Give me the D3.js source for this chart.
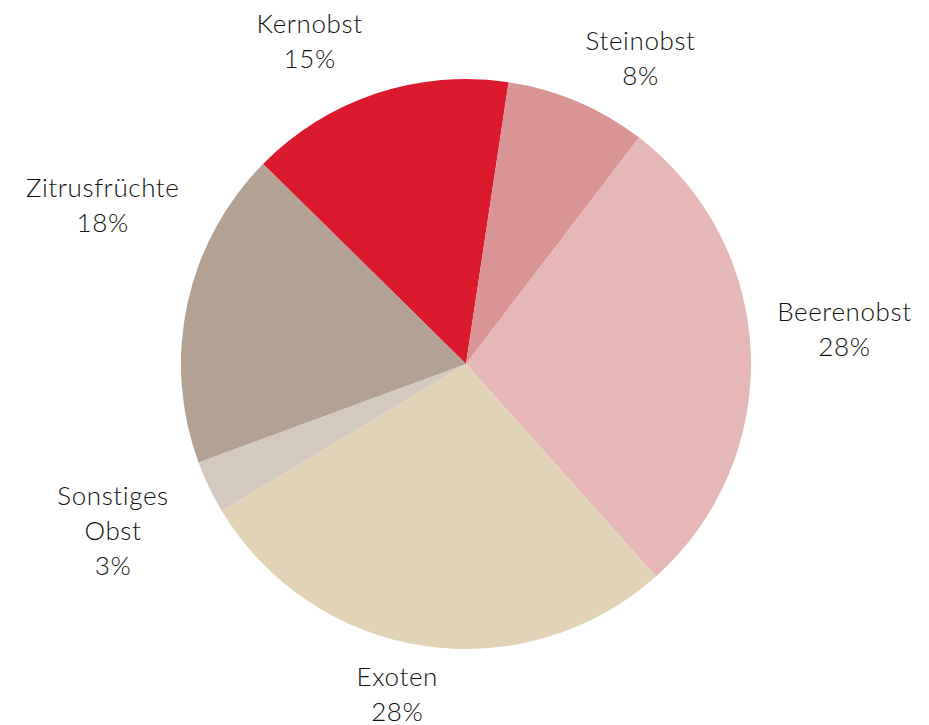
<!DOCTYPE html>
<html>
<head>
<meta charset="utf-8">
<script src="https://cdn.jsdelivr.net/npm/d3@7"></script>
<style>
  html, body { margin: 0; padding: 0; background: #fff; }
  svg text { font-family: Lato, "Open Sans", sans-serif; font-weight: 300; fill: #111; letter-spacing: 0.6px; }
</style>
</head>
<body>
<svg id="chart" width="929" height="725"></svg>
<script>
// data
const categories = ['Kernobst', 'Steinobst', 'Beerenobst', 'Exoten', 'Sonstiges Obst', 'Zitrusfrüchte'];
const shares = [15, 8, 28, 28, 3, 18];
const colors = ['#dc1a2e', '#d99594', '#e6b7b7', '#e2d3b7', '#d4c9be', '#b3a293'];

// layout
const width = 929;
const height = 725;
const center = { x: 466, y: 364 };
const radius = 285;
const labelRadius = 305;
const fontSize = 26;
const lineHeight = 35;
// angle shifts (deg) and radial pushes (px) so labels sit like the original's best-fit placement
const labelShift = [-7.4, 6.7, -3.1, 3.2, 0.4, 11.5];
const labelPush = [1, -9, 5, -10, 13, 8];

const rad = deg => deg * Math.PI / 180;
const startDeg = -45.4;

const svg = d3.select('#chart');

const pie = d3.pie()
  .sort(null)
  .value(d => d.value)
  .startAngle(rad(startDeg))
  .endAngle(rad(startDeg + 360));

const data = categories.map((c, i) => ({
  name: c, value: shares[i], color: colors[i], shift: labelShift[i], push: labelPush[i],
}));
const arcs = pie(data);

const arc = d3.arc().innerRadius(0).outerRadius(radius);

const g = svg.append('g')
  .attr('transform', `translate(${center.x},${center.y})`);

g.selectAll('path.slice')
  .data(arcs)
  .enter()
  .append('path')
  .classed('slice', true)
  .attr('d', arc)
  .attr('fill', d => d.data.color);

const total = d3.sum(shares);

const labels = svg.selectAll('g.label')
  .data(arcs)
  .enter()
  .append('g')
  .classed('label', true);

labels.each(function (d) {
  const lines = d.data.name.split(' ').concat([`${Math.round(d.data.value / total * 100)}%`]);
  const t = d3.select(this).append('text')
    .attr('text-anchor', 'middle')
    .style('font-size', fontSize + 'px');
  lines.forEach((l, i) => {
    t.append('tspan')
      .attr('x', 0)
      .attr('y', i * lineHeight)
      .text(l);
  });
  const box = this.getBBox();
  const a = (d.startAngle + d.endAngle) / 2 + rad(d.data.shift);
  const sx = Math.sin(a);
  const sy = -Math.cos(a);
  const ext = Math.abs(box.width / 2 * sx) + Math.abs(box.height / 2 * sy);
  const r = labelRadius + ext + d.data.push;
  const cx = center.x + r * sx;
  const cy = center.y + r * sy;
  const bx = box.x + box.width / 2;
  const by = box.y + box.height / 2;
  d3.select(this).attr('transform', `translate(${cx - bx},${cy - by})`);
});
</script>
</body>
</html>
